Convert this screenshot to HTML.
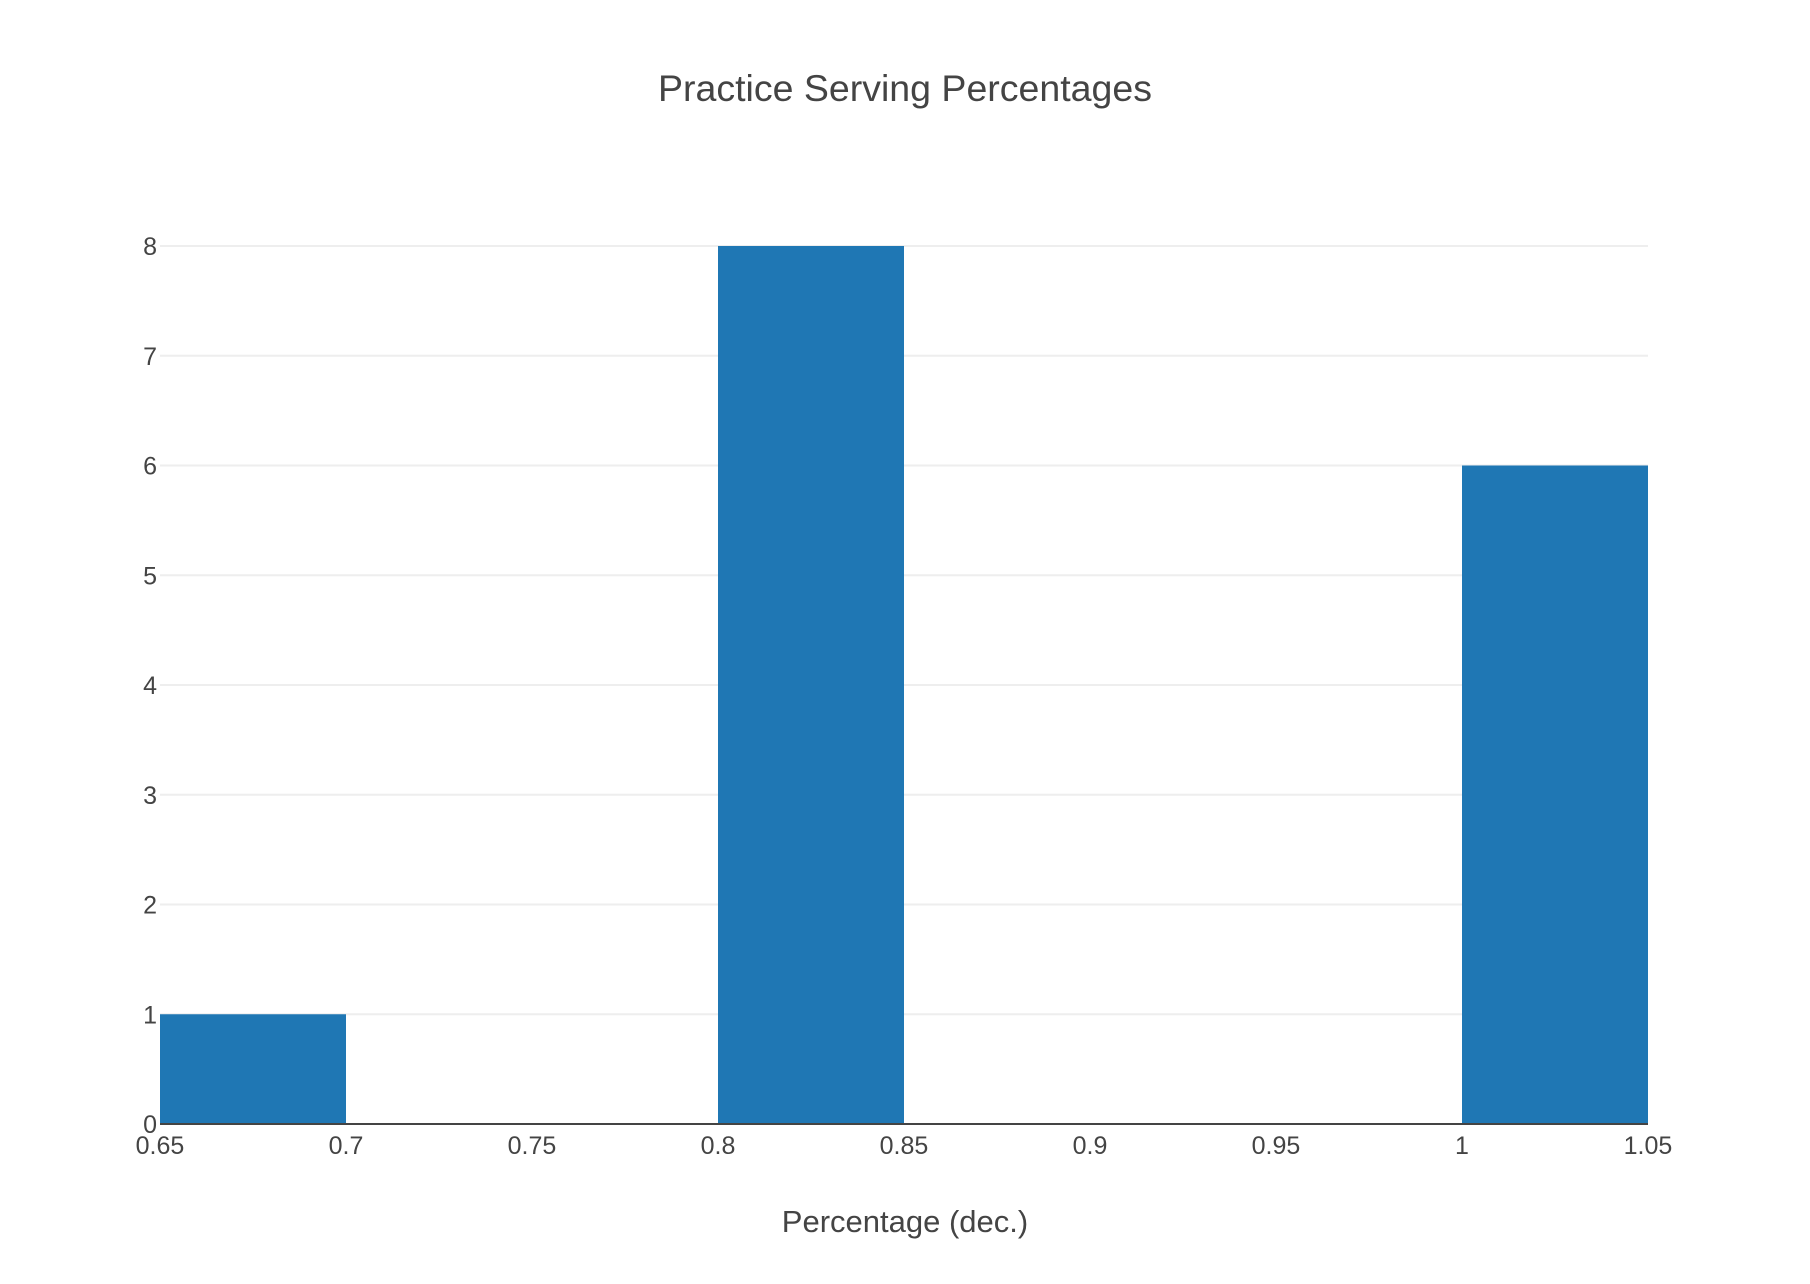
<!DOCTYPE html>
<html><head><meta charset="utf-8"><style>
body{margin:0;background:#fff;}
svg{display:block;font-family:"Liberation Sans",sans-serif;}
</style></head><body>
<svg id="chart" width="1810" height="1284">
<text x="905" y="101" text-anchor="middle" font-size="37.5" fill="#444">Practice Serving Percentages</text>
<text x="905" y="1232" text-anchor="middle" font-size="31" fill="#444">Percentage (dec.)</text>
<g id="grid"></g><g id="bars"></g><g id="axes"></g>
</svg>
<script>
const binStarts=[0.65,0.7,0.75,0.8,0.85,0.9,0.95,1.0];
const counts=[1,0,0,8,0,0,0,6];
const binWidth=0.05;
const xTicks=[0.65,0.7,0.75,0.8,0.85,0.9,0.95,1,1.05];
const yTicks=[0,1,2,3,4,5,6,7,8];
const L=160,R=1648,T=246,B=1124;
const xMin=0.65,xMax=1.05,yMin=0,yMax=8;
const NS="http://www.w3.org/2000/svg";
function xs(v){return L+(v-xMin)/(xMax-xMin)*(R-L);}
function ys(v){return B-(v-yMin)/(yMax-yMin)*(B-T);}
function mk(t,a){const e=document.createElementNS(NS,t);for(const k in a)e.setAttribute(k,a[k]);return e;}
const grid=document.getElementById('grid'),bars=document.getElementById('bars'),axes=document.getElementById('axes');
yTicks.forEach(v=>{
 if(v>0){const g=mk('line',{x1:L,x2:R,y1:ys(v),y2:ys(v),stroke:'#eee','stroke-width':2});
 
 
 grid.appendChild(g);}
 const t=mk('text',{x:L-3,y:ys(v)+9,'text-anchor':'end','font-size':25,fill:'#444'});
 t.textContent=v;
 
 
 axes.appendChild(t);
});
xTicks.forEach(v=>{
 const t=mk('text',{x:xs(v),y:1154,'text-anchor':'middle','font-size':25,fill:'#444'});
 t.textContent=v;
 
 
 axes.appendChild(t);
});
binStarts.forEach((s,i)=>{
 if(counts[i]<=0)return;
 const r=mk('rect',{x:xs(s),y:ys(counts[i]),width:xs(s+binWidth)-xs(s),height:ys(0)-ys(counts[i]),fill:'#1f77b4'});
 
 
 bars.appendChild(r);
});
const ax=mk('line',{x1:L,x2:R,y1:B,y2:B,stroke:'#444','stroke-width':2});


axes.appendChild(ax);
</script>
</body></html>
